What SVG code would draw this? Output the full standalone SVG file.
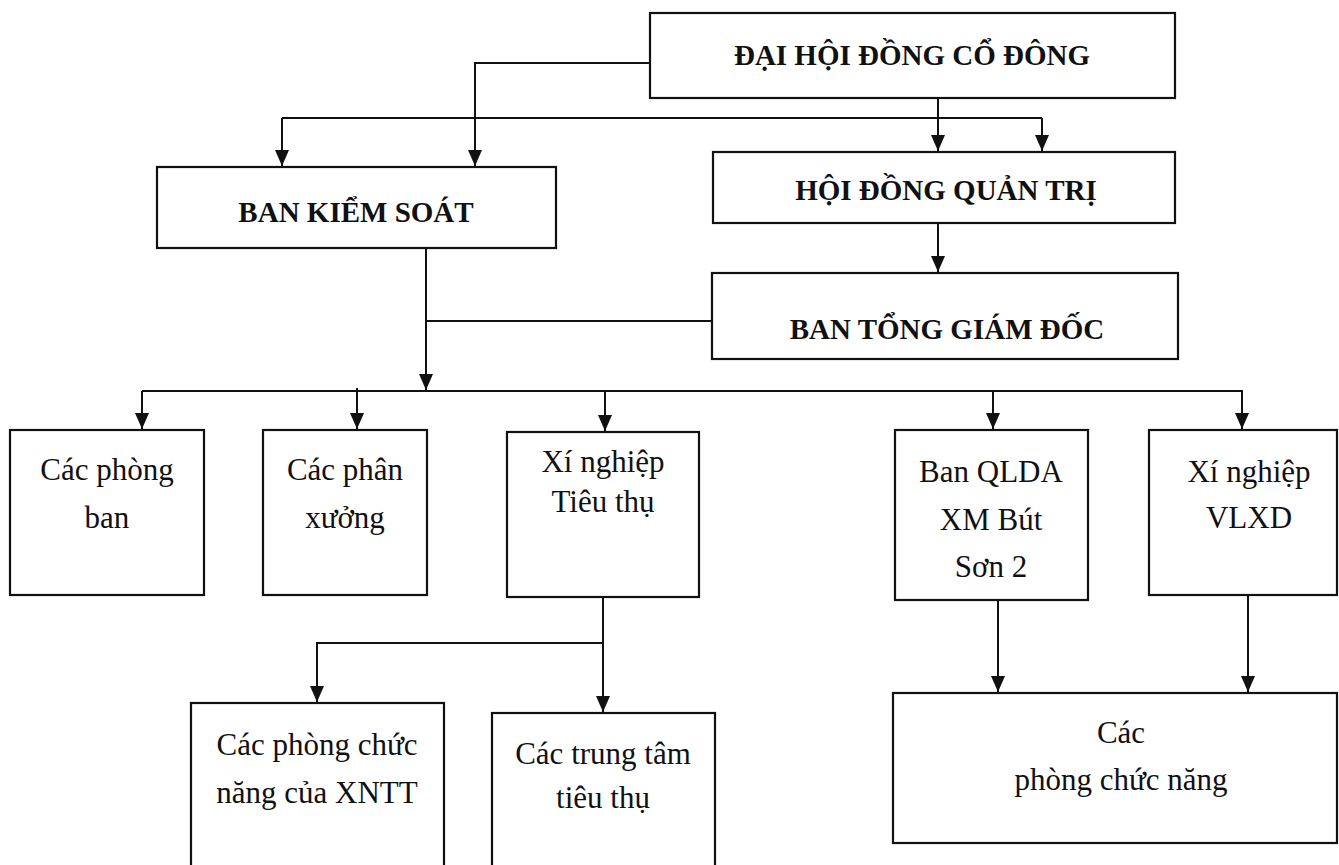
<svg xmlns="http://www.w3.org/2000/svg" width="1339" height="865" viewBox="0 0 1339 865">
<defs>
<style>
.box{fill:#fff;stroke:#111;stroke-width:2.2}
.h{font-family:"Liberation Serif","Times New Roman",serif;font-weight:bold;font-size:29px;fill:#111;text-anchor:middle}
.t{font-family:"Liberation Serif","Times New Roman",serif;font-size:31px;fill:#111;text-anchor:middle}
.c{fill:none;stroke:#111;stroke-width:2}
.a{fill:none;stroke:#111;stroke-width:2;marker-end:url(#arr)}
</style>
<marker id="arr" viewBox="0 0 16 14" refX="16" refY="7" markerWidth="16" markerHeight="14" markerUnits="userSpaceOnUse" orient="auto"><path d="M0,0 L16,7 L0,14 z" fill="#111"/></marker>
</defs>
<rect width="1339" height="865" fill="#fff"/>
<g id="connectors">
<path class="a" d="M650,63 H475 V166"/>
<path class="c" d="M282,118 H1042"/>
<path class="a" d="M282,118 V166"/>
<path class="a" d="M1042,118 V151"/>
<path class="a" d="M938,98 V151"/>
<path class="a" d="M938,223 V272"/>
<path class="c" d="M712,321 H426"/>
<path class="a" d="M426,248 V390"/>
<path class="c" d="M142,391 H1243"/>
<path class="a" d="M142,391 V429"/>
<path class="a" d="M357,388 V429"/>
<path class="a" d="M605,391 V431"/>
<path class="a" d="M993,391 V429"/>
<path class="a" d="M1242,391 V429"/>
<path class="a" d="M603,597 V712"/>
<path class="a" d="M603,643 H317 V702"/>
<path class="a" d="M998,600 V692"/>
<path class="a" d="M1248,595 V692"/>
</g>
<g id="dhdcd"><rect class="box" x="650" y="13" width="525" height="85"/><text class="h" x="912" y="65">ĐẠI HỘI ĐỒNG CỔ ĐÔNG</text></g>
<g id="bks"><rect class="box" x="157" y="167" width="399" height="81"/><text class="h" x="356" y="222">BAN KIỂM SOÁT</text></g>
<g id="hdqt"><rect class="box" x="713" y="152" width="462" height="71"/><text class="h" x="946" y="200">HỘI ĐỒNG QUẢN TRỊ</text></g>
<g id="btgd"><rect class="box" x="712" y="273" width="466" height="86"/><text class="h" x="947" y="339">BAN TỔNG GIÁM ĐỐC</text></g>
<g id="phongban"><rect class="box" x="10" y="430" width="194" height="165"/><text class="t" x="107" y="480">Các phòng</text><text class="t" x="107" y="528">ban</text></g>
<g id="phanxuong"><rect class="box" x="263" y="430" width="164" height="165"/><text class="t" x="345" y="480">Các phân</text><text class="t" x="345" y="528">xưởng</text></g>
<g id="xntt"><rect class="box" x="507" y="432" width="192" height="165"/><text class="t" x="603" y="472">Xí nghiệp</text><text class="t" x="603" y="512">Tiêu thụ</text></g>
<g id="qlda"><rect class="box" x="895" y="430" width="193" height="170"/><text class="t" x="991" y="482">Ban QLDA</text><text class="t" x="991" y="530">XM Bút</text><text class="t" x="991" y="577">Sơn 2</text></g>
<g id="vlxd"><rect class="box" x="1149" y="430" width="188" height="165"/><text class="t" x="1249" y="482">Xí nghiệp</text><text class="t" x="1249" y="528">VLXD</text></g>
<g id="pcn_xntt"><rect class="box" x="191" y="703" width="253" height="170"/><text class="t" x="317" y="755">Các phòng chức</text><text class="t" x="317" y="803">năng của XNTT</text></g>
<g id="trungtam"><rect class="box" x="492" y="713" width="223" height="160"/><text class="t" x="603" y="764">Các trung tâm</text><text class="t" x="603" y="808">tiêu thụ</text></g>
<g id="pcn"><rect class="box" x="893" y="693" width="444" height="150"/><text class="t" x="1121" y="743">Các</text><text class="t" x="1121" y="790">phòng chức năng</text></g>
</svg>
